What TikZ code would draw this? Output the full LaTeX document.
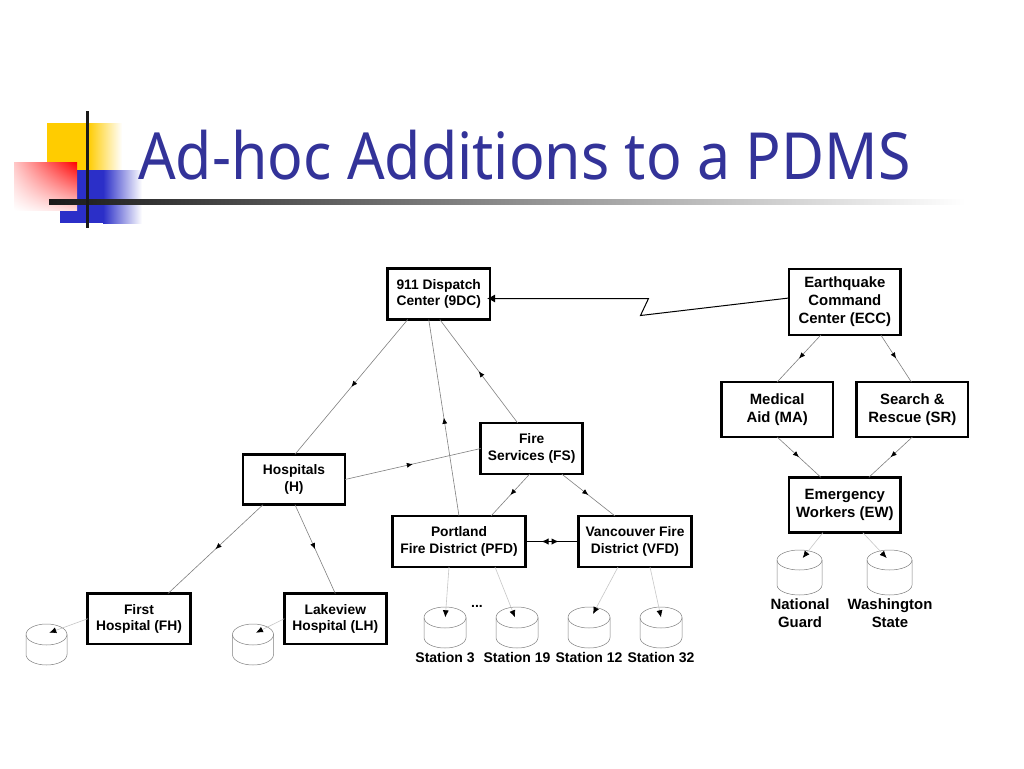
\documentclass[tikz,border=0pt]{standalone}
\usepackage{fontspec}
\setmainfont{Liberation Sans}
\newfontfamily\titlefont[FakeStretch=0.908]{Noto Sans}
\usetikzlibrary{arrows.meta,decorations.markings,shapes.geometric,shadings}
\definecolor{titleblue}{HTML}{333399}
\definecolor{logoyellow}{HTML}{FFCC00}
\definecolor{logoblue}{HTML}{2B2FC8}
\tikzset{
  x=1pt,y=-1pt,
  box/.style={draw=black,line width=2.7pt,fill=white,inner sep=0pt,outer sep=0pt,align=center,font=\fontsize{13.8}{16.5}\selectfont\bfseries,anchor=north west},
  boxr/.style={box,font=\fontsize{14.9}{18}\selectfont\bfseries},
  lbl/.style={align=center,font=\fontsize{14}{18}\selectfont\bfseries,inner sep=0pt},
  lblr/.style={lbl,font=\fontsize{14.9}{18}\selectfont\bfseries},
  link/.style={draw=black!50,line width=0.6pt,postaction={decorate},decoration={markings,mark=at position 0.5 with {\arrow{Latex[length=6pt,width=5pt,black]}}}},
  leaf/.style={draw=black!22,line width=0.6pt,-{Latex[length=7pt,width=6pt,black]}},
  db/.style={draw=black!50,line width=0.5pt,inner sep=0pt,minimum size=0pt},
  pair/.style={draw=black,line width=1pt,postaction={decorate},decoration={markings,
    mark=at position 0.30 with {\arrowreversed{Latex[length=7pt,width=6.5pt,black]}},
    mark=at position 0.62 with {\arrow{Latex[length=7pt,width=6.5pt,black]}}}},
  bolt/.style={draw=black,line width=1pt,-{Latex[length=8pt,width=8pt]}},
}
% name, style, left, top, right, bottom, text
\newcommand{\boxat}[7]{\pgfmathsetmacro{\bw}{#5-#3}\pgfmathsetmacro{\bh}{#6-#4}\node[#2,minimum width=\bw pt,minimum height=\bh pt] (#1) at (#3,#4) {#7};}
\begin{document}
\begin{tikzpicture}
\useasboundingbox (0,0) rectangle (1024,768);
\fill[white] (0,0) rectangle (1024,768);
% logo
\fill[logoyellow] (47,123) rectangle (88,170);
\shade[left color=logoyellow,right color=white] (88,123) rectangle (122,170);
\fill[logoblue] (60,170) rectangle (103,223);
\shade[left color=logoblue,right color=white] (103,170) rectangle (142,223);
\shade[upper right=red,lower left=white,upper left=red!22!white,lower right=red!15!white] (14,162) rectangle (77,210);
\shade[left color=black!90,right color=white] (49,199) rectangle (965,204);
\fill[black!90] (85.5,111) rectangle (89,228);
\node[anchor=base west,inner sep=0pt,text=titleblue,font=\titlefont\fontsize{65}{70}\selectfont] (title) at (138,179) {Ad-hoc Additions to a PDMS};
% boxes
\boxat{dc}{box}{387.5}{268.5}{490}{319.5}{911 Dispatch\\Center (9DC)}
\boxat{ecc}{boxr}{789}{269}{900.7}{335}{Earthquake\\Command\\Center (ECC)}
\boxat{ma}{boxr}{721.3}{382}{833}{437}{Medical\\Aid (MA)}
\boxat{sr}{boxr}{856.7}{382}{968}{437}{Search \&\\Rescue (SR)}
\boxat{ew}{boxr}{789}{477.3}{900.7}{532.7}{Emergency\\Workers (EW)}
\boxat{fs}{box}{480.7}{423}{582.7}{474}{Fire\\Services (FS)}
\boxat{h}{box}{243}{454.3}{345}{504.7}{Hospitals\\(H)}
\boxat{pfd}{box}{392.3}{516}{525.7}{567}{Portland\\Fire District (PFD)}
\boxat{vfd}{box}{578.7}{516}{691.3}{567}{Vancouver Fire\\District (VFD)}
\boxat{fh}{box}{87.7}{593.5}{190.3}{644}{First\\Hospital (FH)}
\boxat{lh}{box}{284.3}{593.5}{386.3}{644}{Lakeview\\Hospital (LH)}
% cylinders: centre x, centre y of top ellipse, half width, half height, body height
\foreach \cx/\cy/\rx/\ry/\bh in {445/617.5/21/10.5/20,517/617.5/21/10.5/20,589/617.5/21/10.5/20,661/617.5/21/10.5/20,46.5/634.5/20.5/10.5/20,253/634.5/20.5/10.5/20,799.5/560/22.5/10/25,889.5/560/22.5/10/25}{
  \draw[db] (\cx-\rx,\cy) arc[start angle=180,end angle=-180,x radius=\rx pt,y radius=\ry pt];
  \draw[db] (\cx-\rx,\cy) -- ++(0,\bh) arc[start angle=180,end angle=360,x radius=\rx pt,y radius=\ry pt] -- ++(0,-\bh);
}
\coordinate (st3) at (445.3,617.3);
\coordinate (st19) at (515,617.3);
\coordinate (st12) at (593,614);
\coordinate (st32) at (661,617.3);
\coordinate (cfh) at (49.3,632.7);
\coordinate (clh) at (256,632.7);
\coordinate (ng) at (802.7,558);
\coordinate (ws) at (886.7,558);
\coordinate (z1) at (640.5,315.5);
\coordinate (z2) at (648.5,298.5);
% links
\draw[link] ([xshift=-31pt]dc.south) -- ([xshift=1pt]h.north);
\draw[link] (pfd.north) -- ([xshift=-10pt]dc.south);
\draw[link] ([xshift=-14pt]fs.north) -- ([xshift=1pt]dc.south);
\draw[link] (h.east) -- (fs.west);
\draw[link] ([xshift=-2pt]fs.south) -- ([xshift=32pt]pfd.north);
\draw[link] ([xshift=30pt]fs.south) -- ([xshift=-20pt]vfd.north);
\draw[link] ([xshift=-31pt]h.south) -- ([xshift=29pt]fh.north);
\draw[link] ([xshift=1pt]h.south) -- (lh.north);
\draw[link] ([xshift=-24pt]ecc.south) -- (ma.north);
\draw[link] ([xshift=36pt]ecc.south) -- ([xshift=-1pt]sr.north);
\draw[link] (ma.south) -- ([xshift=-24pt]ew.north);
\draw[link] (sr.south) -- ([xshift=24pt]ew.north);
\draw[leaf] ([xshift=-10pt]pfd.south) -- (st3);
\draw[leaf] ([xshift=36pt]pfd.south) -- (st19);
\draw[leaf] ([xshift=-17pt]vfd.south) -- (st12);
\draw[leaf] ([xshift=15pt]vfd.south) -- (st32);
\draw[leaf] (fh.west) -- (cfh);
\draw[leaf] (lh.west) -- (clh);
\draw[leaf] ([xshift=-22pt]ew.south) -- (ng);
\draw[leaf] ([xshift=18pt]ew.south) -- (ws);
\draw[pair] (pfd.east) -- (vfd.west);
\draw[bolt] ([yshift=4pt]ecc.west) -- (z1) -- (z2) -- ([yshift=-4.5pt,xshift=-3pt]dc.east);
% labels
\node[lbl] (l1) at (445,657.5) {Station 3};
\node[lbl] (l2) at (517,657.5) {Station 19};
\node[lbl] (l3) at (589,657.5) {Station 12};
\node[lbl] (l4) at (661,657.5) {Station 32};
\node[lblr] (l5) at (800,613.5) {National\\Guard};
\node[lblr] (l6) at (890,613.5) {Washington\\State};
\node[lbl] (dots) at (477,606) {...};
\end{tikzpicture}
\end{document}
